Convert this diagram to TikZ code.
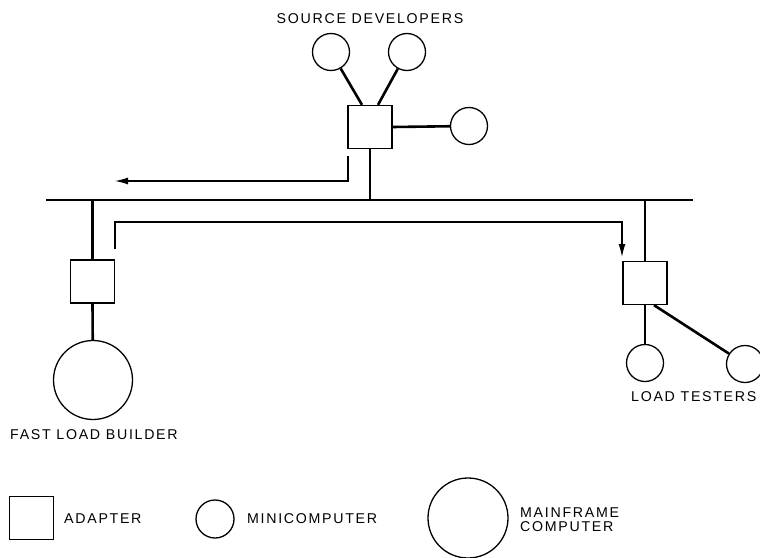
\documentclass[tikz,border=0pt]{standalone}
\usepackage{fontspec}
\newfontfamily\lblfont{Liberation Sans}[LetterSpace=12]
\usetikzlibrary{arrows.meta}

\begin{document}
\begin{tikzpicture}[x=1pt,y=-1pt,
  adapter/.style={draw,line width=1.3pt,minimum width=44pt,minimum height=43pt,inner sep=0pt},
  mini/.style={draw,circle,line width=1.3pt,minimum size=37pt,inner sep=0pt},
  mainframe/.style={draw,circle,line width=1.3pt,minimum size=79pt,inner sep=0pt},
  link/.style={line width=2.6pt},
  flow/.style={line width=1.2pt,-{Latex[length=13pt,width=7pt]}},
  lbl/.style={inner sep=0pt,font=\lblfont\fontsize{14.2}{16}\selectfont}]
\useasboundingbox (0,0) rectangle (760,557);
\coordinate (busL) at (46,200);
\coordinate (busR) at (693,200);
\draw[link] (busL) -- (busR);
\node[adapter] (src) at (370,127) {};
\node[mini] (sd1) at (331,52) {};
\node[mini] (sd2) at (407,52) {};
\node[mini] (sd3) at (469,126) {};
\node[lbl] (srclbl) at (370,19) {SOURCE DEVELOPERS};
\draw[link] (sd1) -- ([xshift=-8pt]src.north);
\draw[link] (sd2) -- ([xshift=8pt]src.north);
\draw[link] (src.east) -- (sd3);
\draw[link] (src.south) -- (src.south |- busL);
\node[adapter] (fl) at (92.5,281.5) {};
\node[mainframe] (mf) at (93,380) {};
\node[lbl,anchor=west] (fllbl) at (10,435) {FAST LOAD BUILDER};
\draw[link] (fl.north |- busL) -- (fl.north);
\draw[link] (fl.south) -- (mf);
\node[adapter] (lt) at (645,283) {};
\node[mini] (lt1) at (645,363) {};
\node[mini] (lt2) at (745,364) {};
\node[lbl,anchor=west] (ltlbl) at (631,397) {LOAD TESTERS};
\draw[link] (lt.north |- busL) -- (lt.north);
\draw[link] (lt.south) -- (lt1);
\draw[link] ([xshift=9pt]lt.south) -- (lt2);
\coordinate (out1) at (348,156);
\coordinate (out2) at (115,181);
\draw[flow] (out1) |- (out2);
\coordinate (ret1) at (115,249);
\coordinate (ret2) at (115,222);
\coordinate (ret3) at (622,257);
\draw[flow] (ret1) -- (ret2) -| (ret3);
\node[adapter] (keyad) at (31.5,518) {};
\node[lbl,anchor=west] (keyadlbl) at (64,519) {ADAPTER};
\node[mini,minimum size=38pt] (keymini) at (215,519) {};
\node[lbl,anchor=west] (keyminilbl) at (247,519) {MINICOMPUTER};
\node[mainframe,minimum size=80pt] (keymf) at (468,518) {};
\node[lbl,anchor=west,align=left] (keymflbl) at (520,520) {MAINFRAME\\[-2pt]COMPUTER};
\end{tikzpicture}
\end{document}
